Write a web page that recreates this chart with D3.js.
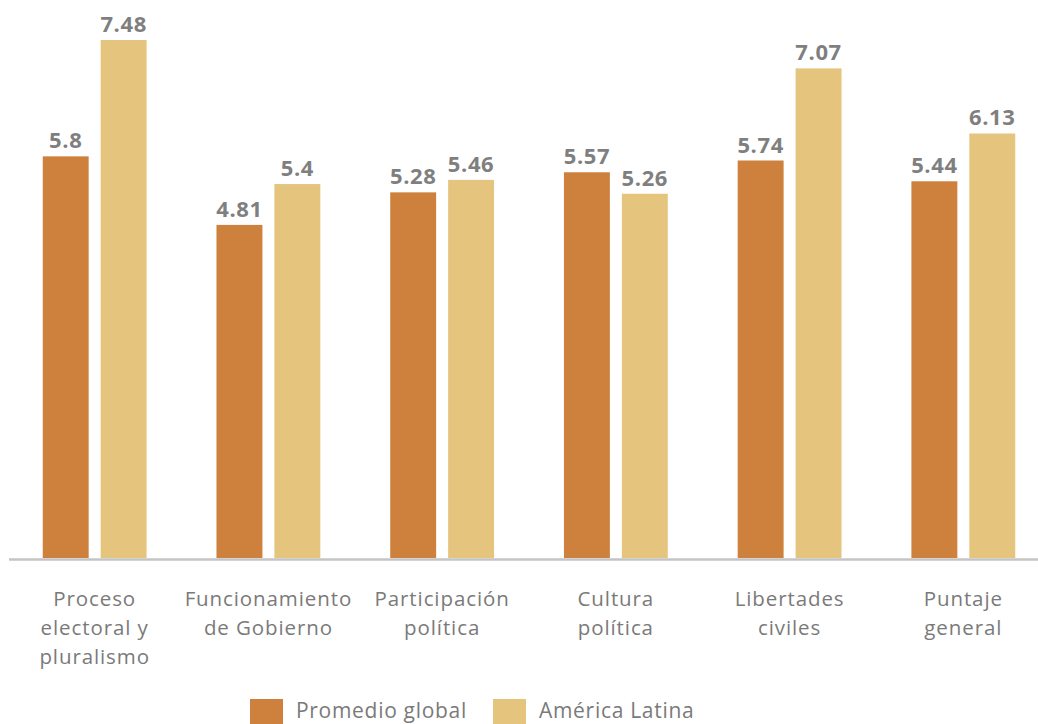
<!DOCTYPE html>
<html><head><meta charset="utf-8">
<script src="https://cdn.jsdelivr.net/npm/d3@7"></script>
<style>html,body{margin:0;padding:0;background:#fff;overflow:hidden}</style>
</head><body>
<svg id="c" width="1038" height="724"></svg>
<script>
const categories = [
  ["Proceso","electoral y","pluralismo"],
  ["Funcionamiento","de Gobierno"],
  ["Participación","política"],
  ["Cultura","política"],
  ["Libertades","civiles"],
  ["Puntaje","general"]
];
const seriesNames = ["Promedio global","América Latina"];
const promedioGlobal = [5.8, 4.81, 5.28, 5.57, 5.74, 5.44];
const americaLatina = [7.48, 5.4, 5.46, 5.26, 7.07, 6.13];
const valueLabels = [["5.8","7.48"],["4.81","5.4"],["5.28","5.46"],["5.57","5.26"],["5.74","7.07"],["5.44","6.13"]];
const colors = ["#CD813C","#E5C47E"];

const svg = d3.select("#c");
const font = "'Open Sans', sans-serif";
const x0 = d3.scaleBand().domain(d3.range(categories.length)).range([8,1050]).paddingInner(0.4023).paddingOuter(0.2);
const x1 = d3.scaleBand().domain([0,1]).range([0,x0.bandwidth()]).paddingInner(0.207).paddingOuter(0);
const y = d3.scaleLinear().domain([0,8]).range([558,4]);
const series = [promedioGlobal, americaLatina];

const g = svg.append("g");
categories.forEach((c,i)=>{
  const gg = g.append("g").attr("transform",`translate(${x0(i)},0)`);
  [0,1].forEach(s=>{
    const v = series[s][i];
    gg.append("rect").attr("x",x1(s)).attr("y",y(v)).attr("width",x1.bandwidth()).attr("height",y(0)-y(v)).attr("fill",colors[s]);
    gg.append("text").attr("x",x1(s)+x1.bandwidth()/2).attr("y",y(v)-8)
      .attr("text-anchor","middle").attr("font-family",font).attr("font-weight","bold")
      .attr("font-size",22).attr("letter-spacing",0.6).attr("fill","#7f7f7f").text(valueLabels[i][s]);
  });
});

// axis line
svg.append("line").attr("x1",9).attr("x2",1038).attr("y1",559.5).attr("y2",559.5).attr("stroke","#c4c4c4").attr("stroke-width",2.5);

// category labels
categories.forEach((lines,i)=>{
  const t = svg.append("text").attr("text-anchor","middle").attr("font-family",font).attr("font-size",20.5).attr("letter-spacing",0.9).attr("fill","#7a7a7a");
  lines.forEach((l,k)=>{
    t.append("tspan").attr("x",x0(i)+x0.bandwidth()/2).attr("y",606+k*29).text(l);
  });
});

// legend
const leg = svg.append("g");
const legX = [250, 493];
seriesNames.forEach((n,s)=>{
  leg.append("rect").attr("x",legX[s]).attr("y",699).attr("width",33).attr("height",30).attr("fill",colors[s]);
  leg.append("text").attr("x",legX[s]+46).attr("y",718).attr("font-family",font).attr("font-size",21).attr("letter-spacing",0.7).attr("fill","#7a7a7a").text(n);
});
</script>
</body></html>
